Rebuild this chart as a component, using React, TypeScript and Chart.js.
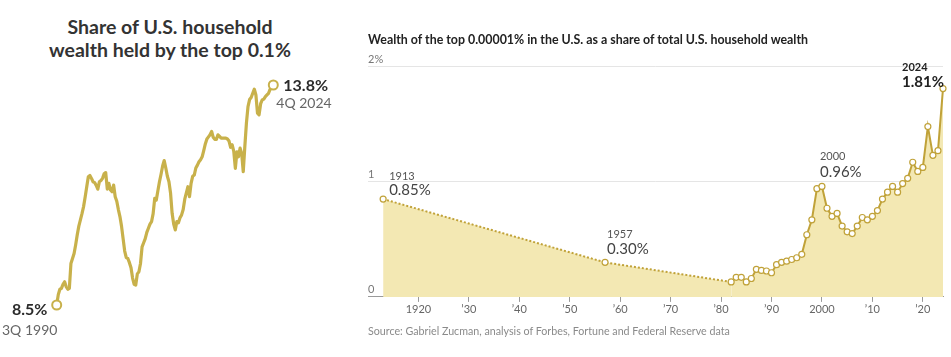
import { useEffect, useRef } from "react";
import { Chart, registerables } from "chart.js";

Chart.register(...registerables);

// ---------- Left panel data: share held by top 0.1% (quarterly, 3Q 1990 – 4Q 2024) ----------
const shareQuarterly = [
  8.5, 8.75, 8.88, 8.9, 9.0, 9.06, 8.94, 8.88, 8.9, 9.5,
  9.62, 9.74, 9.95, 10.19, 10.4, 10.55, 10.7, 10.87, 11.1, 11.35,
  11.59, 11.62, 11.55, 11.47, 11.45, 11.38, 11.29, 11.47, 11.5, 11.55,
  11.66, 11.69, 11.29, 11.43, 11.27, 11.23, 11.39, 11.11, 11.0, 10.8,
  10.63, 10.4, 10.1, 9.8, 9.64, 9.62, 9.52, 9.4, 9.15, 9.0,
  8.98, 9.25, 9.3, 9.5, 9.9, 10.0, 10.1, 10.25, 10.35, 10.45,
  10.51, 10.7, 11.07, 11.03, 11.25, 11.47, 11.65, 11.85, 11.98, 11.8,
  11.6, 11.47, 11.2, 10.71, 10.45, 10.31, 10.51, 10.48, 10.6, 10.67,
  10.8, 11.05, 11.2, 11.35, 11.11, 11.43, 11.6, 11.63, 11.8, 11.87,
  11.95, 12.0, 12.07, 12.22, 12.38, 12.5, 12.55, 12.6, 12.68, 12.54,
  12.49, 12.49, 12.6, 12.56, 12.52, 12.52, 12.52, 12.52, 12.5, 12.45,
  12.3, 12.36, 12.2, 11.79, 12.19, 12.07, 12.28, 12.15, 11.71, 12.32,
  12.88, 13.28, 13.45, 13.5, 13.6, 13.7, 13.56, 13.12, 13.08, 13.35,
  13.44, 13.46, 13.52, 13.56, 13.6, 13.7, 13.75, 13.8,
];
const shareStartYear = 1990;
const shareStartQuarter = 3;
const shareQuarters = shareQuarterly.map((_, i) => {
  const k = shareStartQuarter - 1 + i;
  return `${(k % 4) + 1}Q ${shareStartYear + Math.floor(k / 4)}`;
});
const shareTitle = ["Share of U.S. household", "wealth held by the top 0.1%"];

// ---------- Right panel data: top 0.00001% share ----------
const topYears = [
  1913, 1957, 1982, 1983, 1984, 1985, 1986, 1987, 1988, 1989,
  1990, 1991, 1992, 1993, 1994, 1995, 1996, 1997, 1998, 1999,
  2000, 2001, 2002, 2003, 2004, 2005, 2006, 2007, 2008, 2009,
  2010, 2011, 2012, 2013, 2014, 2015, 2016, 2017, 2018, 2019,
  2020, 2021, 2022, 2023, 2024,
];
const topValues = [
  0.85, 0.3, 0.13, 0.17, 0.17, 0.13, 0.16, 0.24, 0.23, 0.225,
  0.21, 0.28, 0.3, 0.31, 0.325, 0.34, 0.37, 0.54, 0.67, 0.94,
  0.96, 0.77, 0.7, 0.725, 0.615, 0.565, 0.55, 0.615, 0.69, 0.67,
  0.7, 0.75, 0.85, 0.91, 0.96, 0.91, 0.985, 1.03, 1.17, 1.09,
  1.125, 1.48, 1.23, 1.27, 1.81,
];
const annualStartYear = 1982;
const xTickYears = [1920, 1930, 1940, 1950, 1960, 1970, 1980, 1990, 2000, 2010, 2020];
const xTickLabels = ["1920", "\u201930", "\u201940", "\u201950", "\u201960", "\u201970", "\u201980", "\u201990", "2000", "\u201910", "\u201920"];
const yTickValues = [0, 1, 2];
const yTickLabels = ["0", "1", "2%"];
const noteYears = [1913, 1957, 2000, 2024];
const noteLabels = ["0.85%", "0.30%", "0.96%", "1.81%"];
const topTitle = "Wealth of the top 0.00001% in the U.S. as a share of total U.S. household wealth";
const sourceText = "Source: Gabriel Zucman, analysis of Forbes, Fortune and Federal Reserve data";

// ---------- styles ----------
const FONT = "Lato, 'Noto Sans', sans-serif";
const LEFT_LINE = "#c8b14b";
const GOLD = "#c0a239";
const FILL = "#f3e8b3";
const noteStyle = [
  { dx: 6, dyYear: -23, dyVal: -9, bold: false },
  { dx: 2, dyYear: -28, dyVal: -13, bold: false },
  { dx: -2, dyYear: -30, dyVal: -14, bold: false },
  { dx: -41, dyYear: -21.5, dyVal: -6.5, bold: true },
];

function ShareChart() {
  const ref = useRef<HTMLCanvasElement>(null);
  useEffect(() => {
    const labelsPlugin = {
      id: "shareLabels",
      afterDatasetsDraw(chart: any) {
        const { ctx, scales } = chart;
        const last = shareQuarterly.length - 1;
        const x0 = scales.x.getPixelForValue(0);
        const y0 = scales.y.getPixelForValue(shareQuarterly[0]);
        const x1 = scales.x.getPixelForValue(last);
        const y1 = scales.y.getPixelForValue(shareQuarterly[last]);
        ctx.save();
        ctx.textBaseline = "middle";
        ctx.textAlign = "center";
        ctx.fillStyle = "#2b2b2b";
        ctx.font = `700 16px ${FONT}`;
        ctx.fillText(`${shareQuarterly[0].toFixed(1)}%`, x0 - 27, y0 + 5);
        ctx.fillStyle = "#666";
        ctx.font = `400 14px ${FONT}`;
        ctx.fillText(shareQuarters[0], x0 - 27, y0 + 25);
        ctx.textAlign = "left";
        ctx.fillStyle = "#2b2b2b";
        ctx.font = `700 16px ${FONT}`;
        ctx.fillText(`${shareQuarterly[last].toFixed(1)}%`, x1 + 10, y1 + 1);
        ctx.fillStyle = "#666";
        ctx.font = `400 14px ${FONT}`;
        ctx.fillText(shareQuarters[last], x1 + 3, y1 + 18);
        ctx.restore();
      },
    };
    const last = shareQuarterly.length - 1;
    const chart = new Chart(ref.current!, {
      type: "line",
      data: {
        labels: shareQuarters,
        datasets: [
          {
            data: shareQuarterly,
            borderColor: LEFT_LINE,
            borderWidth: 3.2,
            borderJoinStyle: "round",
            tension: 0,
            clip: false,
            pointRadius: (c: any) => (c.dataIndex === 0 || c.dataIndex === last ? 4.5 : 0),
            pointBackgroundColor: "#fff",
            pointBorderColor: LEFT_LINE,
            pointBorderWidth: 2,
          },
        ],
      },
      options: {
        animation: false,
        responsive: false,
        events: [],
        layout: { padding: { left: 56.7, right: 345 - 273.3, top: 85, bottom: 357 - 305 } },
        plugins: { legend: { display: false }, tooltip: { enabled: false } },
        scales: {
          x: { display: false, offset: false },
          y: { display: false, min: 8.5, max: 13.8 },
        },
      } as any,
      plugins: [labelsPlugin],
    });
    return () => chart.destroy();
  }, []);
  return (
    <canvas
      ref={ref}
      width={345}
      height={357}
      style={{ position: "absolute", left: 0, top: 0, width: 345, height: 357 }}
    />
  );
}

function TopChart() {
  const ref = useRef<HTMLCanvasElement>(null);
  useEffect(() => {
    const notesPlugin = {
      id: "notes",
      afterDraw(chart: any) {
        const { ctx, scales } = chart;
        ctx.save();
        ctx.textBaseline = "middle";
        ctx.textAlign = "left";
        noteYears.forEach((yr, i) => {
          const idx = topYears.indexOf(yr);
          const px = scales.x.getPixelForValue(yr);
          const py = scales.y.getPixelForValue(topValues[idx]);
          const s = noteStyle[i];
          ctx.fillStyle = s.bold ? "#222" : "#555";
          ctx.font = `${s.bold ? 700 : 400} 11px ${FONT}`;
          ctx.fillText(String(yr), px + s.dx, py + s.dyYear);
          ctx.fillStyle = s.bold ? "#222" : "#444";
          ctx.font = `${s.bold ? 700 : 400} 15px ${FONT}`;
          ctx.fillText(noteLabels[i], px + s.dx, py + s.dyVal);
        });
        ctx.restore();
      },
    };
    const chart = new Chart(ref.current!, {
      type: "line",
      data: {
        datasets: [
          {
            data: topYears.map((x, i) => ({ x, y: topValues[i] })),
            borderColor: GOLD,
            borderWidth: 2,
            tension: 0,
            clip: false,
            fill: "origin",
            backgroundColor: FILL,
            segment: {
              borderDash: (c: any) => (c.p1.parsed.x <= annualStartYear ? [2, 2] : undefined),
            },
            pointRadius: 3,
            pointBackgroundColor: "#fff",
            pointBorderColor: GOLD,
            pointBorderWidth: 1.2,
          },
        ],
      },
      options: {
        animation: false,
        responsive: false,
        events: [],
        layout: { padding: { left: 8, right: 8, top: 66.7, bottom: 39.9 } },
        plugins: { legend: { display: false }, tooltip: { enabled: false } },
        scales: {
          x: {
            type: "linear",
            min: 1910,
            max: 2024,
            z: 1,
            afterBuildTicks: (axis: any) => {
              axis.ticks = xTickYears.map((value) => ({ value }));
            },
            grid: {
              display: true,
              drawOnChartArea: false,
              drawTicks: true,
              tickLength: 5,
              color: "#9a9a9a",
            },
            border: { display: true, color: "#9a9a9a", width: 1 },
            ticks: {
              padding: 1,
              maxRotation: 0,
              autoSkip: false,
              color: "#666",
              font: { family: FONT, size: 11 },
              callback: (v: any) => xTickLabels[xTickYears.indexOf(Number(v))] ?? "",
            },
          },
          y: {
            min: 0,
            max: 2,
            z: 1,
            afterBuildTicks: (axis: any) => {
              axis.ticks = yTickValues.map((value) => ({ value }));
            },
            grid: {
              drawTicks: false,
              color: (c: any) => (c.tick && c.tick.value === 0 ? "rgba(0,0,0,0)" : "rgba(225,225,225,0.85)"),
              lineWidth: 1,
            },
            border: { display: false },
            ticks: {
              mirror: true,
              padding: 0,
              labelOffset: -7,
              color: "#777",
              font: { family: FONT, size: 11 },
              callback: (v: any) => yTickLabels[yTickValues.indexOf(Number(v))] ?? "",
            },
          },
        },
      } as any,
      plugins: [notesPlugin],
    });
    return () => chart.destroy();
  }, []);
  return (
    <canvas
      ref={ref}
      width={591}
      height={357}
      style={{ position: "absolute", left: 360, top: 0, width: 591, height: 357 }}
    />
  );
}

export default function App() {
  return (
    <div
      style={{
        position: "absolute",
        left: 0,
        top: 0,
        width: 951,
        height: 357,
        background: "#fff",
        overflow: "hidden",
        fontFamily: FONT,
      }}
    >
      <div
        style={{
          position: "absolute",
          left: 0,
          top: 15,
          width: 340,
          textAlign: "center",
          font: `700 19.5px/23px ${FONT}`,
          color: "#333",
        }}
      >
        {shareTitle[0]}
        <br />
        {shareTitle[1]}
      </div>
      <ShareChart />
      <TopChart />
      <div
        style={{
          position: "absolute",
          left: 368,
          top: 32,
          whiteSpace: "nowrap",
          font: `700 12.4px/16px ${FONT}`,
          color: "#222",
        }}
      >
        {topTitle}
      </div>
      <div
        style={{
          position: "absolute",
          left: 368,
          top: 324,
          whiteSpace: "nowrap",
          font: `400 10.7px/14px ${FONT}`,
          color: "#8a8a8a",
        }}
      >
        {sourceText}
      </div>
    </div>
  );
}
